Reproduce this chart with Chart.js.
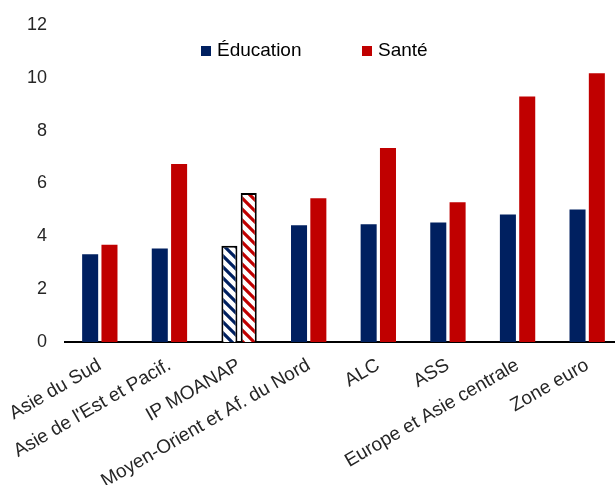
<!DOCTYPE html>
<html>
<head>
<meta charset="utf-8">
<script src="https://cdn.jsdelivr.net/npm/chart.js@4.4.1/dist/chart.umd.min.js"></script>
<style>
  html, body { margin: 0; padding: 0; background: #fff; overflow: hidden; }
  #wrap { width: 625px; height: 485px; }
</style>
</head>
<body>
<div id="wrap"><canvas id="chart1"></canvas></div>
<script>
var categories = ['Asie du Sud', "Asie de l'Est et Pacif.", 'IP MOANAP', 'Moyen-Orient et Af. du Nord',
    'ALC', 'ASS', 'Europe et Asie centrale', 'Zone euro'];
var education = [3.32, 3.54, 3.64, 4.42, 4.46, 4.52, 4.83, 5.02];
var sante = [3.68, 6.74, 5.64, 5.44, 7.34, 5.29, 9.29, 10.17];
var hatchedIndex = 2; // IP MOANAP drawn with stripes

var NAVY = '#002060';
var RED = '#C00000';
var FONT = 'Arial, "Liberation Sans", sans-serif';

// diagonal stripes on white
function stripes(color) {
    var c = document.createElement('canvas');
    c.width = c.height = 11;
    var g = c.getContext('2d');
    g.fillStyle = '#fff';
    g.fillRect(0, 0, 11, 11);
    g.strokeStyle = color;
    g.lineWidth = 3.2;
    g.beginPath();
    g.moveTo(-2, -2); g.lineTo(13, 13);
    g.moveTo(-2, 9); g.lineTo(2, 13);
    g.moveTo(9, -2); g.lineTo(13, 2);
    g.stroke();
    return g.createPattern(c, 'repeat');
}

function fills(color) {
    return categories.map(function (_, i) { return i === hatchedIndex ? stripes(color) : color; });
}
function borders(color) {
    return categories.map(function (_, i) { return i === hatchedIndex ? '#000' : color; });
}
function widths() {
    return categories.map(function (_, i) { return i === hatchedIndex ? 2 : 0; });
}

// legend drawn inside the plot area
var innerLegend = {
    id: 'innerLegend',
    afterDraw: function (chart) {
        var ctx = chart.ctx;
        var items = [{ x: 201, label: chart.data.datasets[0].label, color: NAVY },
                     { x: 362, label: chart.data.datasets[1].label, color: RED }];
        ctx.save();
        ctx.font = '19px ' + FONT;
        ctx.textBaseline = 'middle';
        items.forEach(function (it) {
            ctx.fillStyle = it.color;
            ctx.fillRect(it.x, 46, 10, 10);
            ctx.fillStyle = '#000';
            ctx.fillText(it.label, it.x + 16, 51);
        });
        ctx.restore();
    }
};

var ctx = document.getElementById('chart1').getContext('2d');
var chart1 = new Chart(ctx, {
    type: 'bar',
    data: {
        labels: categories,
        datasets: [{
            label: 'Éducation',
            data: education,
            backgroundColor: fills(NAVY),
            borderColor: borders(NAVY),
            borderWidth: widths()
        }, {
            label: 'Santé',
            data: sante,
            backgroundColor: fills(RED),
            borderColor: borders(RED),
            borderWidth: widths()
        }]
    },
    options: {
        responsive: true,
        maintainAspectRatio: false,
        animation: false,
        datasets: { bar: { categoryPercentage: 0.555, barPercentage: 0.83 } },
        layout: { padding: { top: 25, right: 3, left: 0, bottom: 0 } },
        scales: {
            x: {
                grid: { display: false, drawTicks: false },
                border: { color: '#000', width: 2 },
                ticks: {
                    minRotation: 30, maxRotation: 30, padding: 12,
                    color: '#262626', font: { family: FONT, size: 19 }
                },
                afterFit: function (scale) {
                    scale.height = 143;
                    // long rotated labels may run past the left edge
                    scale.paddingLeft = 0;
                    scale.paddingRight = 0;
                }
            },
            y: {
                min: 0, max: 12,
                grid: { display: false, drawTicks: false },
                border: { display: false },
                ticks: {
                    stepSize: 2, padding: 18,
                    color: '#262626', font: { family: FONT, size: 18 }
                },
                afterFit: function (scale) {
                    scale.width = 65;
                    scale.paddingTop = 0;
                }
            }
        },
        plugins: {
            legend: { display: false },
            tooltip: { enabled: false }
        }
    },
    plugins: [innerLegend]
});
</script>
</body>
</html>
